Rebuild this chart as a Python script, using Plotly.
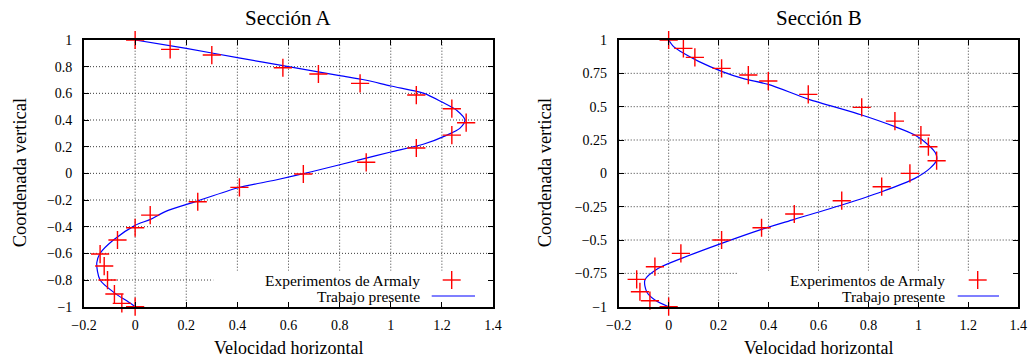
import plotly.graph_objects as go

# ---- Sección A -------------------------------------------------------------
# Experimentos de Armaly (velocidad horizontal, coordenada vertical)
a_exp_u = [0.0, 0.137, 0.30, 0.578, 0.717, 0.88, 1.10, 1.239, 1.295, 1.239,
           1.10, 0.904, 0.658, 0.408, 0.245, 0.059, 0.0, -0.069, -0.137,
           -0.121, -0.108, -0.081, -0.052, 0.0]
a_exp_y = [1.0, 0.93, 0.887, 0.792, 0.745, 0.675, 0.587, 0.485, 0.38, 0.287,
           0.19, 0.083, -0.005, -0.105, -0.213, -0.313, -0.408, -0.5, -0.605,
           -0.695, -0.80, -0.905, -0.975, -1.0]
# Trabajo presente
a_sim_u = [0.0, 0.2, 0.4, 0.6, 0.8, 0.9, 1.0, 1.13, 1.20, 1.26, 1.29, 1.27,
           1.22, 1.13, 1.0, 0.9, 0.69, 0.55, 0.4, 0.24, 0.12, 0.06, 0.0,
           -0.085, -0.137, -0.15, -0.137, -0.078, -0.03, 0.0]
a_sim_y = [1.0, 0.937, 0.868, 0.80, 0.733, 0.70, 0.655, 0.60, 0.535, 0.47,
           0.40, 0.337, 0.287, 0.22, 0.16, 0.112, 0.012, -0.05, -0.11, -0.21,
           -0.285, -0.345, -0.39, -0.5, -0.6, -0.67, -0.8, -0.9, -0.96, -1.0]

# ---- Sección B -------------------------------------------------------------
b_exp_u = [0.0, 0.059, 0.105, 0.212, 0.319, 0.399, 0.559, 0.773, 0.906, 1.010,
           1.04, 1.073, 0.966, 0.853, 0.693, 0.503, 0.372, 0.212, 0.049,
           -0.055, -0.128, -0.115, -0.075, 0.0]
b_exp_y = [1.0, 0.937, 0.87, 0.787, 0.737, 0.692, 0.592, 0.495, 0.392, 0.287,
           0.2, 0.095, 0.0, -0.1, -0.205, -0.305, -0.408, -0.5, -0.6, -0.7,
           -0.795, -0.888, -0.955, -1.0]
b_sim_u = [0.0, 0.02, 0.06, 0.12, 0.212, 0.3, 0.399, 0.559, 0.773, 0.906,
           0.986, 1.04, 1.069, 1.073, 1.046, 0.986, 0.853, 0.693, 0.503, 0.372,
           0.212, 0.052, -0.041, -0.095, -0.088, -0.055, 0.0]
b_sim_y = [1.0, 0.95, 0.9, 0.84, 0.765, 0.71, 0.667, 0.557, 0.4375, 0.35,
           0.287, 0.2125, 0.15, 0.1, 0.0375, -0.0375, -0.1375, -0.2375, -0.345,
           -0.42, -0.525, -0.6375, -0.7125, -0.80, -0.8875, -0.95, -1.0]

# ---- Ejes y rótulos --------------------------------------------------------
x_tick_vals = [-0.2, 0.0, 0.2, 0.4, 0.6, 0.8, 1.0, 1.2, 1.4]
x_tick_text = ["\u22120.2", "0", "0.2", "0.4", "0.6", "0.8", "1", "1.2", "1.4"]
a_y_tick_vals = [-1.0, -0.8, -0.6, -0.4, -0.2, 0.0, 0.2, 0.4, 0.6, 0.8, 1.0]
a_y_tick_text = ["\u22121", "\u22120.8", "\u22120.6", "\u22120.4", "\u22120.2",
                 "0", "0.2", "0.4", "0.6", "0.8", "1"]
b_y_tick_vals = [-1.0, -0.75, -0.5, -0.25, 0.0, 0.25, 0.5, 0.75, 1.0]
b_y_tick_text = ["\u22121", "\u22120.75", "\u22120.5", "\u22120.25", "0",
                 "0.25", "0.5", "0.75", "1"]

titles = ["Secci\u00f3n A", "Secci\u00f3n B"]
x_label = "Velocidad horizontal"
y_label = "Coordenada vertical"
legend_labels = ["Experimentos de Armaly", "Trabajo presente"]

W, H = 1033, 360
FONT = "Liberation Serif, Times New Roman, DejaVu Serif, serif"
RED = "#ff0000"
BLUE = "#0000ff"
GRID = "#3a3a3a"


def fx(p):
    return p / W


def fy(p):
    return 1 - p / H


# plot-area boxes in pixels: (left, right, top, bottom)
boxes = [(84, 493, 40, 306.7), (618.7, 1018.3, 40, 306.7)]

fig = go.Figure()

series = [(a_exp_u, a_exp_y, a_sim_u, a_sim_y, "x", "y"),
          (b_exp_u, b_exp_y, b_sim_u, b_sim_y, "x2", "y2")]
for eu, ey, su, sy, xa, ya in series:
    fig.add_trace(go.Scatter(
        x=su, y=sy, mode="lines", xaxis=xa, yaxis=ya,
        line=dict(color=BLUE, width=1.2, shape="spline", smoothing=0.8),
        showlegend=False, hoverinfo="skip"))
    fig.add_trace(go.Scatter(
        x=eu, y=ey, mode="markers", xaxis=xa, yaxis=ya, cliponaxis=False,
        marker=dict(symbol="cross-thin", size=13,
                    line=dict(color=RED, width=1.4)),
        showlegend=False, hoverinfo="skip"))

common_axis = dict(
    showline=True, linecolor="black", linewidth=1.7, mirror="ticks",
    ticks="inside", ticklen=5, tickwidth=1, tickcolor="black",
    showgrid=False, zeroline=False, automargin=False,
    tickfont=dict(family=FONT, size=14, color="black"),
    fixedrange=True,
)

layout_axes = {}
for i, (l, r, t, b) in enumerate(boxes):
    sfx = "" if i == 0 else str(i + 1)
    ytv, ytt = (a_y_tick_vals, a_y_tick_text) if i == 0 else (b_y_tick_vals, b_y_tick_text)
    layout_axes["xaxis" + sfx] = dict(
        common_axis, domain=[fx(l), fx(r)], range=[-0.2, 1.4],
        tickmode="array", tickvals=x_tick_vals, ticktext=x_tick_text,
        anchor="y" + sfx, ticklabelstandoff=5)
    layout_axes["yaxis" + sfx] = dict(
        common_axis, domain=[fy(b), fy(t)], range=[-1, 1],
        tickmode="array", tickvals=ytv, ticktext=ytt,
        anchor="x" + sfx, ticklabelstandoff=7)

fig.update_layout(
    width=W, height=H, margin=dict(l=0, r=0, t=0, b=0, autoexpand=False),
    paper_bgcolor="white", plot_bgcolor="white",
    font=dict(family=FONT, color="black"),
    showlegend=False,
    **layout_axes,
)

annotations = []
shapes = []
key_box_left = [0.316, 0.2986]
key_text_right = [421.7, 947.3]
key_cross_x = [451.7, 977.7]
key_line_x = [(431.7, 475.0), (957.7, 999.0)]
for i, (l, r, t, b) in enumerate(boxes):
    sfx = "" if i == 0 else str(i + 1)
    xr, yr = "x" + sfx, "y" + sfx
    ytv = a_y_tick_vals if i == 0 else b_y_tick_vals
    # dotted grid at the interior tick positions, drawn beneath the traces
    for v in x_tick_vals[1:-1]:
        shapes.append(dict(type="line", xref=xr, yref=yr + " domain",
                           x0=v, x1=v, y0=0, y1=1, layer="below",
                           line=dict(color=GRID, width=1, dash="1px,2px")))
    for v in ytv[1:-1]:
        shapes.append(dict(type="line", xref=xr + " domain", yref=yr,
                           x0=0, x1=1, y0=v, y1=v, layer="below",
                           line=dict(color=GRID, width=1, dash="1px,2px")))
    # opaque key background
    shapes.append(dict(
        type="rect", xref=xr + " domain", yref=yr + " domain",
        x0=key_box_left[i], x1=1, y0=0, y1=0.135,
        fillcolor="white", line=dict(width=0), layer="below"))
    # key samples
    cx, cy = key_cross_x[i], 280.0
    shapes.append(dict(type="line", xref="paper", yref="paper",
                       x0=fx(cx - 9), x1=fx(cx + 9), y0=fy(cy), y1=fy(cy),
                       line=dict(color=RED, width=1.4)))
    shapes.append(dict(type="line", xref="paper", yref="paper",
                       x0=fx(cx), x1=fx(cx), y0=fy(cy - 9), y1=fy(cy + 9),
                       line=dict(color=RED, width=1.4)))
    lx0, lx1 = key_line_x[i]
    shapes.append(dict(type="line", xref="paper", yref="paper",
                       x0=fx(lx0), x1=fx(lx1), y0=fy(296), y1=fy(296),
                       line=dict(color=BLUE, width=1.2)))
    for label, ky in zip(legend_labels, [280, 296]):
        annotations.append(dict(
            text=label, xref="paper", yref="paper", x=fx(key_text_right[i]),
            y=fy(ky), xanchor="right", yanchor="middle", showarrow=False,
            font=dict(family=FONT, size=15.5, color="black")))
    cxp = (l + r) / 2
    annotations.append(dict(
        text=titles[i], xref="paper", yref="paper", x=fx(cxp), y=fy(17.5),
        xanchor="center", yanchor="middle", showarrow=False,
        font=dict(family=FONT, size=21, color="black")))
    annotations.append(dict(
        text=x_label, xref="paper", yref="paper", x=fx(cxp), y=fy(348),
        xanchor="center", yanchor="middle", showarrow=False,
        font=dict(family=FONT, size=18, color="black")))
    ytx = 20 if i == 0 else 545
    annotations.append(dict(
        text=y_label, xref="paper", yref="paper", x=fx(ytx), y=fy((t + b) / 2),
        xanchor="center", yanchor="middle", showarrow=False, textangle=-90,
        font=dict(family=FONT, size=18.5, color="black")))

fig.update_layout(shapes=shapes, annotations=annotations)

fig.write_html("out.html", config={"displayModeBar": False})
